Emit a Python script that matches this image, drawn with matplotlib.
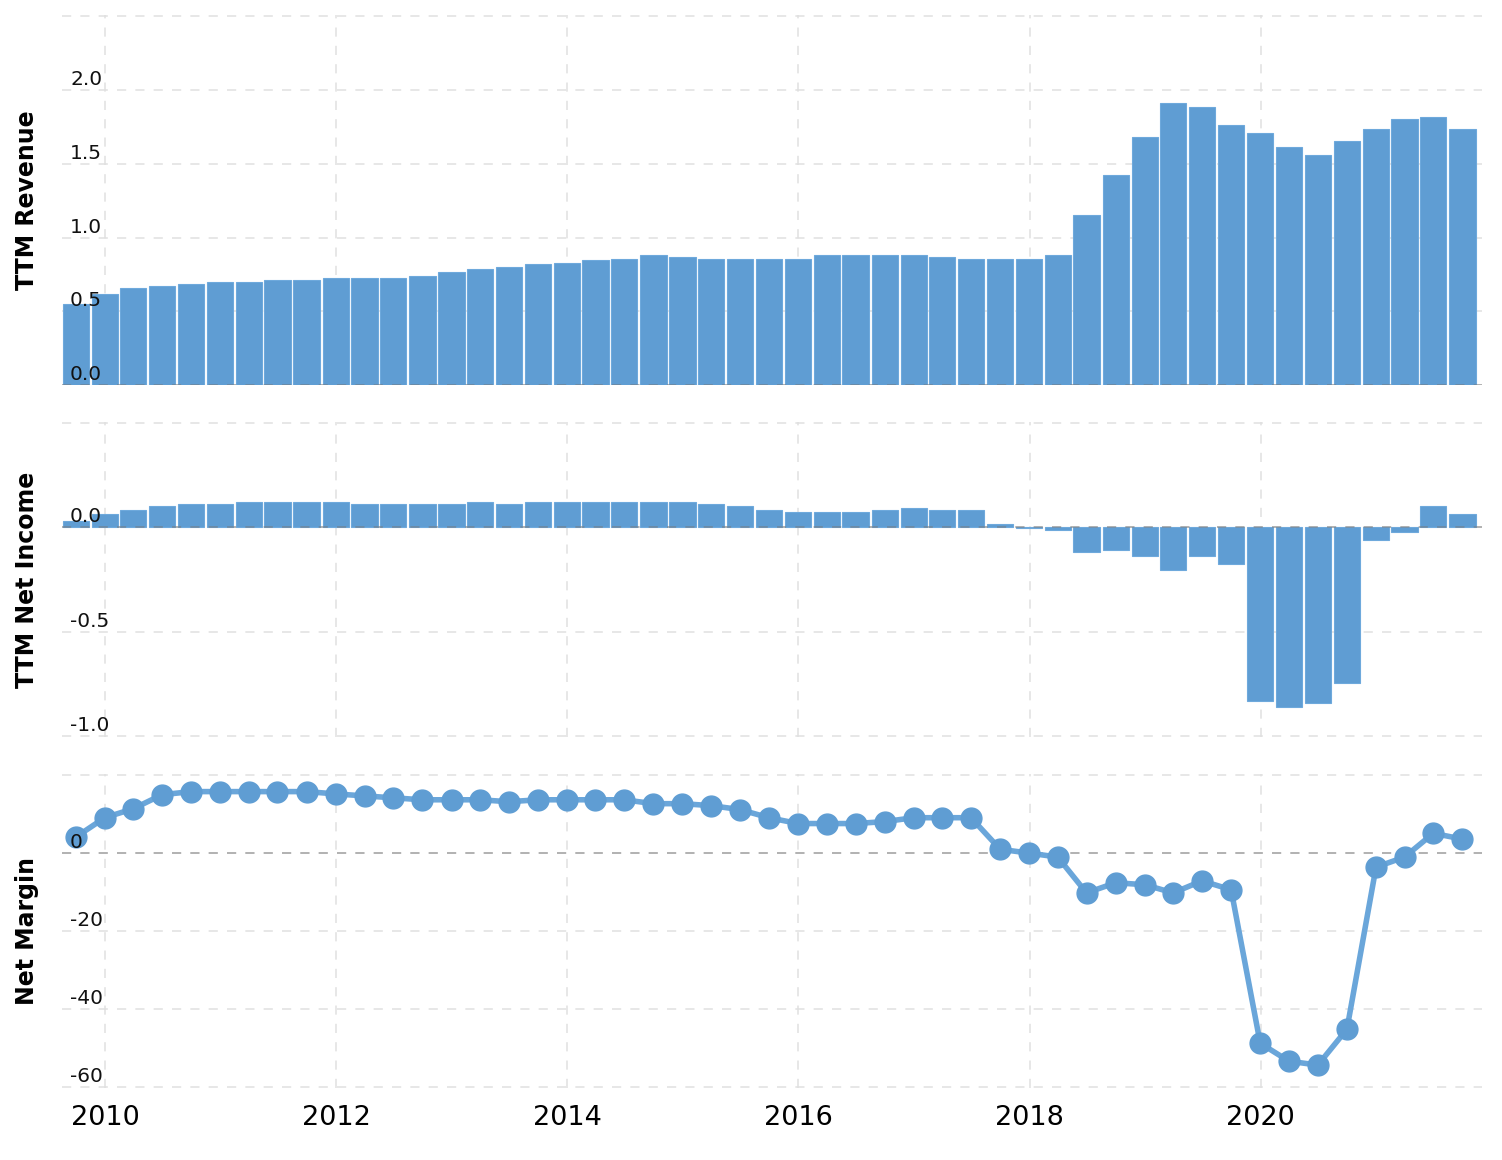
import numpy as np
import pandas as pd
import matplotlib
matplotlib.use("Agg")
import matplotlib.pyplot as plt
import matplotlib.dates as mdates
import matplotlib.transforms as mtransforms

###############################################################################
# Data (quarterly, TTM values)

dates = pd.date_range("2009-09-30", periods=49, freq=pd.offsets.QuarterEnd())

revenue = [0.547, 0.615, 0.655, 0.669, 0.682, 0.696, 0.696, 0.709, 0.709, 0.723,
           0.723, 0.723, 0.736, 0.764, 0.790, 0.800, 0.818, 0.830, 0.845, 0.858,
           0.885, 0.870, 0.858, 0.858, 0.858, 0.858, 0.885, 0.885, 0.885, 0.885,
           0.870, 0.858, 0.858, 0.858, 0.885, 1.155, 1.426, 1.682, 1.912, 1.885,
           1.764, 1.710, 1.615, 1.561, 1.655, 1.736, 1.804, 1.818, 1.736]

net_income = [0.029, 0.062, 0.081, 0.100, 0.110, 0.110, 0.119, 0.119, 0.119, 0.119,
              0.110, 0.110, 0.110, 0.110, 0.119, 0.110, 0.119, 0.119, 0.119, 0.119,
              0.119, 0.119, 0.110, 0.100, 0.081, 0.071, 0.071, 0.071, 0.081, 0.090,
              0.081, 0.081, 0.014, -0.005, -0.014, -0.119, -0.110, -0.138, -0.205, -0.138,
              -0.176, -0.833, -0.862, -0.843, -0.748, -0.062, -0.024, 0.100, 0.062]

net_margin = [4.1, 9.1, 11.4, 15.0, 15.8, 15.8, 15.8, 15.8, 15.8, 15.2,
              14.7, 14.2, 13.7, 13.7, 13.7, 13.2, 13.7, 13.7, 13.7, 13.7,
              12.7, 12.7, 12.2, 11.2, 9.1, 7.6, 7.6, 7.6, 8.1, 9.1,
              9.1, 9.1, 1.0, 0.0, -1.0, -10.2, -7.6, -8.1, -10.2, -7.1,
              -9.4, -48.8, -53.4, -54.4, -45.2, -3.6, -1.0, 5.1, 3.6]

rev_ticks = [0.0, 0.5, 1.0, 1.5, 2.0, 2.5]
rev_labels = ["0.0", "0.5", "1.0", "1.5", "2.0", ""]
ni_ticks = [-1.0, -0.5, 0.0, 0.5]
ni_labels = ["-1.0", "-0.5", "0.0", ""]
nm_ticks = [-60, -40, -20, 0, 20]
nm_labels = ["-60", "-40", "-20", "0", ""]

###############################################################################
# Styling

bar_color = "#5f9dd3"
line_color = "#6aa6da"
grid_color = "#e0e0e0"

x = mdates.date2num(dates)
xmin = mdates.date2num(pd.Timestamp("2009-08-18"))
xmax = mdates.date2num(pd.Timestamp("2021-12-01"))


def style_axis(ax, ticks, labels, ylim, ylabel):
    for s in ax.spines.values():
        s.set_visible(False)
    ax.set_axisbelow(True)
    ax.set_xlim(xmin, xmax)
    ax.set_ylim(*ylim)
    ax.xaxis.set_major_locator(mdates.YearLocator(2))
    ax.xaxis.set_major_formatter(mdates.DateFormatter("%Y"))
    ax.grid(True, color=grid_color, linestyle=(0, (6, 6)), linewidth=1.1)
    ax.set_yticks(ticks)
    ax.tick_params(axis="y", length=0, labelleft=False)
    ax.tick_params(axis="x", length=0, pad=12, labelsize=19.5)
    # tick labels sit inside the plot, on top of the bars
    trans = mtransforms.offset_copy(ax.get_yaxis_transform(), fig=ax.figure,
                                    x=8, y=1, units="dots")
    for t, lab in zip(ticks, labels):
        ax.text(0, t, lab, transform=trans, ha="left", va="bottom",
                fontsize=14.5, color="#111111", zorder=10)
    ax.set_ylabel(ylabel, fontsize=17, fontweight="bold")
    ax.yaxis.set_label_coords(-0.0162, 0.5)
    ax.axhline(0, color="#777777", linestyle=(0, (6, 6)), linewidth=1.1,
               alpha=0.6, zorder=4)


fig = plt.figure(figsize=(15.02, 11.6), dpi=100)
ax1 = fig.add_axes([0.0413, 0.6681, 0.9454, 0.3190])
ax2 = fig.add_axes([0.0413, 0.3647, 0.9454, 0.2716])
ax3 = fig.add_axes([0.0413, 0.0620, 0.9454, 0.2707])

ax1.bar(x, revenue, width=83, color=bar_color, edgecolor="#6ea9dc",
        linewidth=0.8, zorder=2)
style_axis(ax1, rev_ticks, rev_labels, (0, 2.51), "TTM Revenue")
ax1.tick_params(axis="x", labelbottom=False)

ax2.bar(x, net_income, width=83, color=bar_color, edgecolor="#6ea9dc",
        linewidth=0.8, zorder=2)
style_axis(ax2, ni_ticks, ni_labels, (-1.005, 0.505), "TTM Net Income")
ax2.tick_params(axis="x", labelbottom=False)

ax3.plot(x, net_margin, color=line_color, linewidth=4, marker="o",
         markersize=15, markerfacecolor=bar_color, markeredgecolor=bar_color,
         zorder=5)
style_axis(ax3, nm_ticks, nm_labels, (-60.3, 20.3), "Net Margin")

fig.savefig("out.png", dpi=100)
